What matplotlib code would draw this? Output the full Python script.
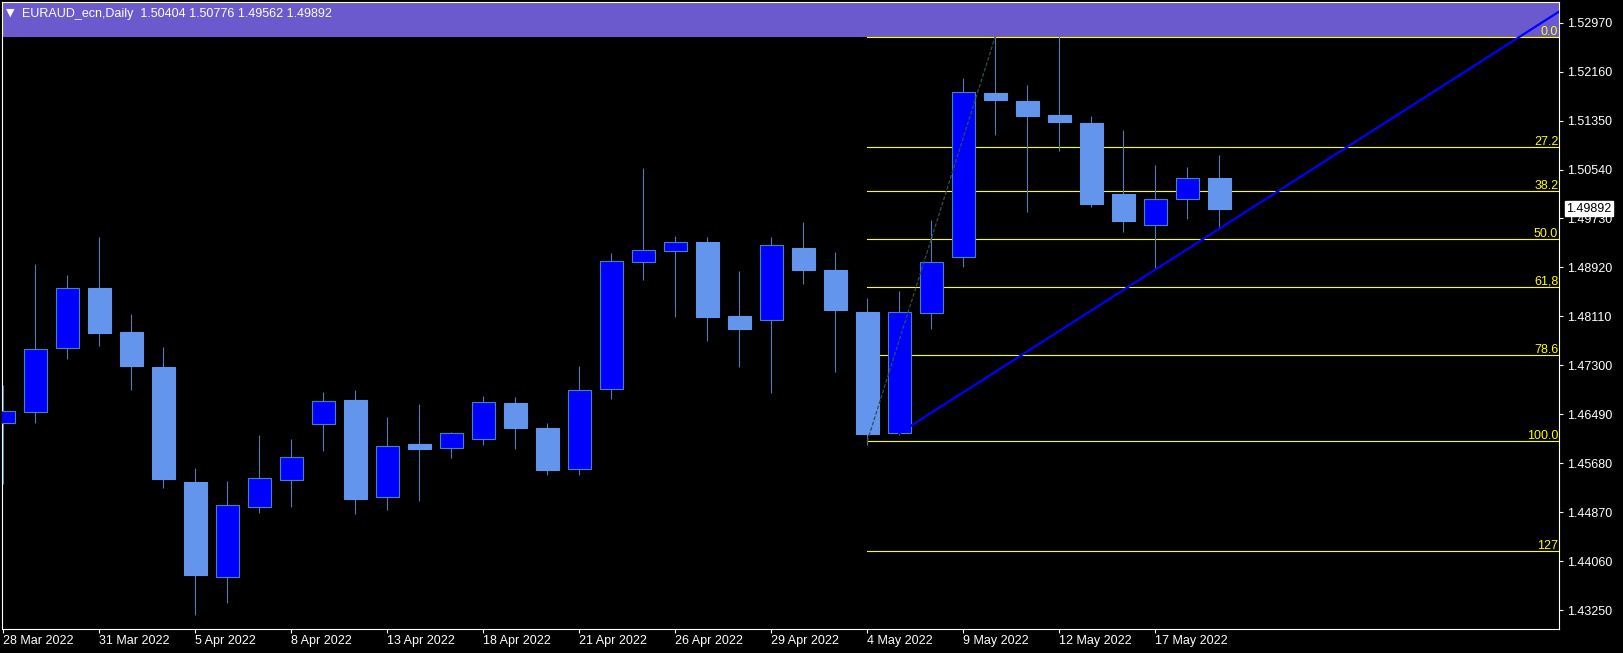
import numpy as np
import matplotlib
matplotlib.use("Agg")
import matplotlib.pyplot as plt
import matplotlib.transforms as mtransforms

plt.rcParams["font.family"] = ["Liberation Sans", "DejaVu Sans"]

# daily bars, EURAUD
dates = ["28 Mar", "29 Mar", "30 Mar", "31 Mar", "1 Apr", "4 Apr", "5 Apr", "6 Apr",
         "7 Apr", "8 Apr", "11 Apr", "12 Apr", "13 Apr", "14 Apr", "15 Apr", "18 Apr",
         "19 Apr", "20 Apr", "21 Apr", "22 Apr", "25 Apr", "26 Apr", "27 Apr", "28 Apr",
         "29 Apr", "2 May", "3 May", "4 May", "5 May", "6 May", "9 May", "10 May",
         "11 May", "12 May", "13 May", "16 May", "17 May", "18 May", "19 May"]
opens = np.array([1.46340, 1.46532, 1.47581, 1.48579, 1.47851, 1.47272, 1.45369, 1.43801,
                  1.44950, 1.45397, 1.46324, 1.46726, 1.45115, 1.45997, 1.45926, 1.46075,
                  1.46671, 1.46262, 1.45579, 1.46903, 1.49005, 1.49187, 1.49341, 1.48116,
                  1.48045, 1.49241, 1.48877, 1.48182, 1.46175, 1.48161, 1.49087, 1.51807,
                  1.51674, 1.51442, 1.51310, 1.50135, 1.49617, 1.50047, 1.50404])
highs = np.array([1.46974, 1.48976, 1.48794, 1.49423, 1.48149, 1.47603, 1.45600, 1.45385,
                  1.46146, 1.46080, 1.46858, 1.46891, 1.46444, 1.46659, 1.46196, 1.46792,
                  1.46775, 1.46345, 1.47288, 1.49159, 1.50565, 1.49440, 1.49423, 1.48861,
                  1.49423, 1.49672, 1.49175, 1.48414, 1.48530, 1.49705, 1.52055, 1.52760,
                  1.51939, 1.52760, 1.51426, 1.51194, 1.50615, 1.50582, 1.50776])
lows = np.array([1.45335, 1.46350, 1.47409, 1.47619, 1.46891, 1.45274, 1.43167, 1.43371,
                 1.44860, 1.44960, 1.45887, 1.44844, 1.44910, 1.45059, 1.45771, 1.45986,
                 1.45920, 1.45489, 1.45489, 1.46747, 1.48717, 1.48104, 1.47707, 1.47277,
                 1.46846, 1.48650, 1.47194, 1.45981, 1.46146, 1.47896, 1.48932, 1.51116,
                 1.49842, 1.50852, 1.49925, 1.49511, 1.48910, 1.49726, 1.49562])
closes = np.array([1.46539, 1.47570, 1.48574, 1.47835, 1.47288, 1.45423, 1.43829, 1.44983,
                   1.45430, 1.45777, 1.46704, 1.45092, 1.45959, 1.45920, 1.46175, 1.46688,
                   1.46267, 1.45572, 1.46886, 1.49021, 1.49203, 1.49336, 1.48104, 1.47906,
                   1.49286, 1.48882, 1.48220, 1.46168, 1.48177, 1.49005, 1.51818, 1.51696,
                   1.51431, 1.51332, 1.49974, 1.49693, 1.50047, 1.50395, 1.49892])

price_ticks = [1.43250, 1.44060, 1.44870, 1.45680, 1.46490, 1.47300, 1.48110,
               1.48920, 1.49730, 1.50540, 1.51350, 1.52160, 1.52970]
date_tick_idx = [0, 3, 6, 9, 12, 15, 18, 21, 24, 27, 30, 33, 36]

# fibonacci retracement: anchored on bar 27 low and bar 31 high
fib_bars = [27, 31]
fib_0 = 1.52738
fib_100 = 1.46040
fib_ratios = [0.0, 0.272, 0.382, 0.5, 0.618, 0.786, 1.0, 1.27]
fib_labels = ["0.0", "27.2", "38.2", "50.0", "61,8", "78.6", "100.0", "127"]

# trend line anchors (bar index, price)
trend_x = [28, 37]
trend_y = [1.46175, 1.49221]

header = "EURAUD_ecn,Daily  1.50404 1.50776 1.49562 1.49892"
last_price = closes[-1]

bull = "#0000FF"
bear = "#6495ED"
wick = "#4682B4"
fib_col = "#FFFF00"

fig = plt.figure(figsize=(16.23, 6.53), dpi=100, facecolor="black")
ax = fig.add_axes([2 / 1623, 24 / 653, 1557 / 1623, 627.5 / 653])
ax.set_facecolor("black")

xmin, xmax = -0.04, 48.62
ax.set_xlim(xmin, xmax)
ax.set_ylim(1.42936, 1.53321)

# header band
ax.add_patch(plt.Rectangle((0, 1 - 35.8 / 627.5), 1, 35.8 / 627.5, transform=ax.transAxes,
                           facecolor="#6A5ACD", edgecolor="none", zorder=1))

# candles
x = np.arange(len(opens))
up = closes >= opens
ax.vlines(x, lows, highs, color=wick, lw=0.8, zorder=3)
ax.bar(x[up], (closes - opens)[up], bottom=opens[up], width=0.73,
       color=bull, edgecolor=wick, linewidth=0.8, zorder=4)
ax.bar(x[~up], (opens - closes)[~up], bottom=closes[~up], width=0.73,
       color=bear, edgecolor=bear, linewidth=0.8, zorder=4)

# fibo
rng = fib_0 - fib_100
ytrans = mtransforms.blended_transform_factory(ax.transAxes, ax.transData)
for r, lab in zip(fib_ratios, fib_labels):
    lvl = fib_0 - r * rng
    ax.plot([fib_bars[0], xmax + 1], [lvl, lvl], color=fib_col, lw=0.8, zorder=2)
    ax.annotate(lab, xy=(0.9995, lvl), xycoords=ytrans, xytext=(0, 1.5),
                textcoords="offset points", ha="right", va="baseline",
                color=fib_col, fontsize=9, zorder=6)
ax.plot(fib_bars, [fib_100, fib_0], color="#2F4F4F", lw=0.9,
        linestyle=(0, (3, 1.5)), zorder=5)

# trend line (ray to the right)
slope = (trend_y[1] - trend_y[0]) / (trend_x[1] - trend_x[0])
ax.plot([trend_x[0], xmax + 2], [trend_y[0], trend_y[0] + slope * (xmax + 2 - trend_x[0])],
        color="#0000FF", lw=1.6, zorder=6)

# axes
for s in ax.spines.values():
    s.set_color("white")
    s.set_linewidth(0.8)
ax.yaxis.tick_right()
ax.set_yticks(price_ticks)
ax.set_yticklabels([f"{p:.5f}" for p in price_ticks])
ax.set_xticks(date_tick_idx)
ax.set_xticklabels([dates[i] + " 2022" for i in date_tick_idx])
ax.tick_params(axis="y", colors="white", length=3, width=0.8, pad=2.5, labelsize=9)
ax.tick_params(axis="x", colors="white", length=3, width=0.8, pad=1.5, labelsize=9)
for lbl in ax.get_xticklabels():
    lbl.set_ha("left")

# current price tag
ax.text(1.0045, last_price, f"{last_price:.5f}", transform=ytrans, ha="left", va="center",
        color="black", fontsize=9, clip_on=False, zorder=10,
        bbox=dict(boxstyle="square,pad=0.12", fc="white", ec="white"))

# header text
fig.text(5.5 / 1623, 1 - 15.5 / 653, "\u25bc", color="white", fontsize=8,
         family=["DejaVu Sans"], va="baseline")
fig.text(21.5 / 1623, 1 - 16.7 / 653, header, color="white", fontsize=9, va="baseline")

fig.savefig("out.png", dpi=100, facecolor="black")
